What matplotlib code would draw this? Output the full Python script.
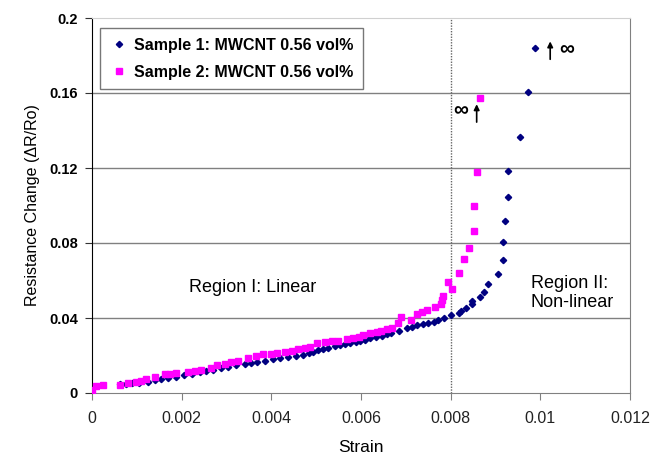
import numpy as np
import matplotlib
matplotlib.use('Agg')
import matplotlib.pyplot as plt

plt.rcParams['font.family'] = ['Liberation Sans', 'DejaVu Sans']

# Sample 1 (navy diamonds)
s1_strain = [0.00062, 0.00075, 0.00090, 0.00105, 0.00125, 0.00140, 0.00155, 0.00170,
             0.00188, 0.00205, 0.00222, 0.00240, 0.00255, 0.00271, 0.00288, 0.00304,
             0.00322, 0.00341, 0.00355, 0.00367, 0.00385, 0.00404, 0.00420, 0.00438,
             0.00455, 0.00471, 0.00483, 0.00494, 0.00505, 0.00516, 0.00527, 0.00542,
             0.00553, 0.00565, 0.00575, 0.00588, 0.00598, 0.00610, 0.00620, 0.00633,
             0.00646, 0.00657, 0.00668, 0.00685, 0.00702, 0.00713, 0.00724, 0.00738,
             0.00750, 0.00762, 0.00772, 0.00786, 0.00800, 0.00819, 0.00822, 0.00834,
             0.00847, 0.00848, 0.00866, 0.00875, 0.00884, 0.00906, 0.00916, 0.00917,
             0.00921, 0.00927, 0.00928, 0.00955, 0.00972, 0.00987]
s1_dr = [0.0048, 0.0050, 0.0053, 0.0056, 0.0060, 0.0068, 0.0073, 0.0080,
         0.0087, 0.0095, 0.0103, 0.0112, 0.0118, 0.0123, 0.0132, 0.0140,
         0.0147, 0.0153, 0.0160, 0.0167, 0.0173, 0.0180, 0.0187, 0.0194,
         0.0198, 0.0203, 0.0212, 0.0220, 0.0228, 0.0236, 0.0242, 0.0250,
         0.0256, 0.0260, 0.0265, 0.0271, 0.0277, 0.0285, 0.0292, 0.0298,
         0.0304, 0.0313, 0.0322, 0.0333, 0.0345, 0.0354, 0.0363, 0.0369,
         0.0375, 0.0381, 0.0390, 0.0400, 0.0414, 0.0425, 0.0437, 0.0455,
         0.0475, 0.0491, 0.0512, 0.0540, 0.0580, 0.0633, 0.0709, 0.0804,
         0.0919, 0.1044, 0.1186, 0.1367, 0.1607, 0.1838]

# Sample 2 (magenta squares)
s2_strain = [0.00000, 0.00010, 0.00025, 0.00062, 0.00080, 0.00099, 0.00110, 0.00121,
             0.00140, 0.00162, 0.00175, 0.00188, 0.00214, 0.00230, 0.00244, 0.00266,
             0.00278, 0.00297, 0.00310, 0.00326, 0.00349, 0.00365, 0.00382, 0.00400,
             0.00412, 0.00430, 0.00445, 0.00460, 0.00475, 0.00486, 0.00501, 0.00520,
             0.00535, 0.00549, 0.00568, 0.00583, 0.00595, 0.00605, 0.00620, 0.00635,
             0.00645, 0.00657, 0.00669, 0.00683, 0.00689, 0.00712, 0.00724, 0.00735,
             0.00747, 0.00765, 0.00778, 0.00781, 0.00784, 0.00795, 0.00804, 0.00819,
             0.00830, 0.00842, 0.00853, 0.00851, 0.00859, 0.00866]
s2_dr = [0.0016, 0.0037, 0.0043, 0.0043, 0.0055, 0.0060, 0.0066, 0.0073,
         0.0087, 0.0100, 0.0102, 0.0105, 0.0114, 0.0118, 0.0123, 0.0135,
         0.0149, 0.0155, 0.0163, 0.0172, 0.0185, 0.0198, 0.0208, 0.0210,
         0.0212, 0.0220, 0.0226, 0.0233, 0.0240, 0.0247, 0.0265, 0.0274,
         0.0276, 0.0279, 0.0286, 0.0292, 0.0300, 0.0309, 0.0318, 0.0327,
         0.0333, 0.0340, 0.0348, 0.0372, 0.0404, 0.0389, 0.0420, 0.0434,
         0.0443, 0.0457, 0.0475, 0.0496, 0.0519, 0.0594, 0.0556, 0.0638,
         0.0715, 0.0773, 0.0864, 0.0997, 0.1179, 0.1573]

x_ticks = [0, 0.002, 0.004, 0.006, 0.008, 0.01, 0.012]
x_labels = ['0', '0.002', '0.004', '0.006', '0.008', '0.01', '0.012']
y_ticks = [0, 0.04, 0.08, 0.12, 0.16, 0.2]
y_labels = ['0', '0.04', '0.08', '0.12', '0.16', '0.2']

fig = plt.figure(figsize=(6.51, 4.57), dpi=100)
ax = fig.add_axes([92 / 651, 64 / 457, 538 / 651, 375 / 457])

for yv in y_ticks[1:-1]:
    ax.axhline(yv, color='#808080', lw=1.0, zorder=1)
ax.axvline(0.008, color='#666666', lw=1.0, ls=(0, (1, 1)), zorder=1)

ax.plot(s1_strain, s1_dr, ls='none', marker='D', ms=3.2, color='#000080',
        mec='#000080', label='Sample 1: MWCNT 0.56 vol%', zorder=2)
ax.plot(s2_strain, s2_dr, ls='none', marker='s', ms=4.0, color='#ff00ff',
        mec='#ff00ff', label='Sample 2: MWCNT 0.56 vol%', zorder=3)

ax.set_xlim(0, 0.012)
ax.set_ylim(0, 0.2)
ax.set_xticks(x_ticks)
ax.set_xticklabels(x_labels, fontsize=11.5, color='#222222')
ax.set_yticks(y_ticks)
ax.set_yticklabels(y_labels, fontsize=10.5, fontweight='bold')
ax.tick_params(axis='x', direction='out', length=5, color='#808080', pad=8)
ax.tick_params(axis='y', direction='out', length=5, color='#333333', pad=5)

ax.spines['left'].set_color('black')
ax.spines['bottom'].set_color('#808080')
ax.spines['right'].set_color('#808080')
ax.spines['top'].set_color('#d0d0d0')

ax.set_xlabel('Strain', fontsize=12.5, labelpad=10)
ax.set_ylabel('Resistance Change (\u0394R/Ro)', fontsize=11.5, labelpad=7)

ax.text(0.00359, 0.0565, 'Region I: Linear', fontsize=13, ha='center', va='center')
ax.text(0.00979, 0.0533, 'Region II:\nNon-linear', fontsize=13, ha='left', va='center',
        linespacing=1.2)

# infinity marks with arrows
ax.text(0.00822, 0.1505, '\u221e', fontsize=15, fontweight='bold', ha='center', va='center')
ax.annotate('', xy=(0.00858, 0.1555), xytext=(0.00858, 0.1430),
            arrowprops=dict(arrowstyle='-|>', color='black', lw=1.2, mutation_scale=8))
ax.text(0.01058, 0.1829, '\u221e', fontsize=15, fontweight='bold', ha='center', va='center')
ax.annotate('', xy=(0.01022, 0.1890), xytext=(0.01022, 0.1765),
            arrowprops=dict(arrowstyle='-|>', color='black', lw=1.2, mutation_scale=8))

leg = ax.legend(loc='upper left', bbox_to_anchor=(0.0149, 0.973), borderaxespad=0,
                frameon=True, fancybox=False, edgecolor='#555555',
                prop={'size': 11.5, 'weight': 'bold'},
                handletextpad=0.3, borderpad=0.6, labelspacing=0.75, markerscale=1.0,
                handlelength=1.2)
leg.get_frame().set_linewidth(1.0)

fig.savefig('out.png', dpi=100)
